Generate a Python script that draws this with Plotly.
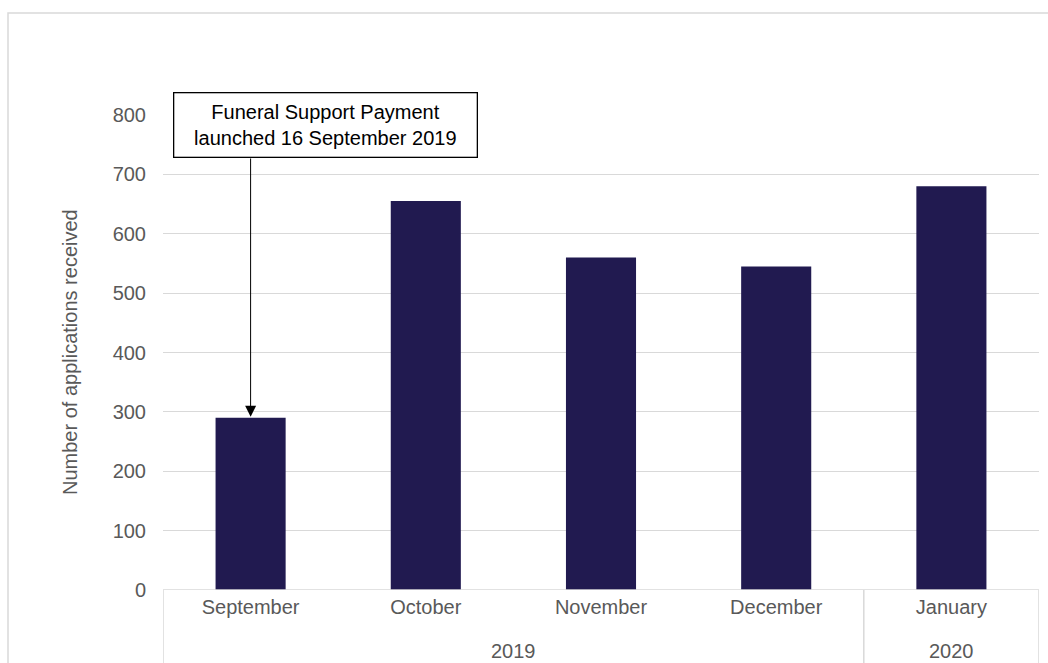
import plotly.graph_objects as go

months = ["September", "October", "November", "December", "January"]
years = ["2019", "2019", "2019", "2019", "2020"]
applications = [290, 655, 560, 545, 680]
year_groups = ["2019", "2020"]
y_ticks = [0, 100, 200, 300, 400, 500, 600, 700, 800]

BAR = "#211A50"
GRID = "#D9D9D9"
TXT = "#595959"
FONT = "Liberation Sans, Arial, sans-serif"

W, H = 1048, 663
L, R, T, B = 163, 9, 115, 73
pw, ph = W - L - R, H - T - B

def px2paper_x(px):
    return (px - L) / pw

def px2paper_y(py):
    return (H - B - py) / ph

xpos = list(range(len(months)))

fig = go.Figure()
fig.add_trace(go.Bar(x=xpos, y=applications, width=0.4,
                     marker=dict(color=BAR, line=dict(width=0)),
                     hoverinfo="skip"))

fig.update_layout(
    width=W, height=H,
    margin=dict(l=L, r=R, t=T, b=B, pad=0),
    paper_bgcolor="white", plot_bgcolor="white",
    showlegend=False,
    font=dict(family=FONT, size=20, color=TXT),
    xaxis=dict(range=[-0.5, len(months) - 0.5], tickvals=xpos, ticktext=months,
               showgrid=False, zeroline=False, showline=False, ticks="",
               ticklabelstandoff=3, tickfont=dict(size=20, color=TXT)),
    yaxis=dict(range=[0, 800], tickvals=y_ticks, showgrid=True, gridcolor=GRID,
               gridwidth=1, zeroline=False, showline=False, ticks="",
               ticklabelstandoff=16, tickfont=dict(size=20, color=TXT)),
)

shapes = []
# outer chart border
shapes.append(dict(type="rect", xref="paper", yref="paper",
                   x0=px2paper_x(8), x1=px2paper_x(1060),
                   y0=px2paper_y(680), y1=px2paper_y(13),
                   line=dict(color=GRID, width=1.5), fillcolor="rgba(0,0,0,0)",
                   layer="below"))
# x axis line
shapes.append(dict(type="line", xref="x", yref="y", x0=-0.5, x1=len(months) - 0.5,
                   y0=0, y1=0, line=dict(color=GRID, width=1.5)))
# group dividers
bottom = px2paper_y(H + 5)
year_bounds = [-0.5]
for i in range(1, len(years)):
    if years[i] != years[i - 1]:
        year_bounds.append(i - 0.5)
year_bounds.append(len(years) - 0.5)
for xb in year_bounds:
    shapes.append(dict(type="line", xref="x", yref="paper", x0=xb, x1=xb,
                       y0=0, y1=bottom, line=dict(color=GRID, width=1.5)))
fig.update_layout(shapes=shapes)

annotations = []
# year labels
for yr in year_groups:
    idx = [i for i, y in enumerate(years) if y == yr]
    annotations.append(dict(xref="x", yref="paper", x=sum(idx) / len(idx),
                            y=px2paper_y(651), text=yr, showarrow=False,
                            yanchor="middle", font=dict(size=20, color=TXT)))
# y-axis title
annotations.append(dict(xref="paper", yref="paper", x=px2paper_x(70),
                        y=px2paper_y(352), text="Number of applications received",
                        textangle=-90, showarrow=False, xanchor="center",
                        yanchor="middle", font=dict(size=20, color=TXT)))
# callout box
annotations.append(dict(xref="paper", yref="paper", x=px2paper_x(325.5),
                        y=px2paper_y(125), text="Funeral Support Payment<br>launched 16 September 2019",
                        showarrow=False, xanchor="center", yanchor="middle",
                        width=300, height=61, bordercolor="#000000", borderwidth=1.3,
                        bgcolor="white", font=dict(size=20, color="#000000")))
# arrow
annotations.append(dict(xref="x", yref="y", x=0, y=applications[0], text="",
                        showarrow=True, arrowhead=2, arrowsize=2.2, arrowwidth=1,
                        arrowcolor="#000000", ax=0, ay=-(590 - applications[0] * ph / 800 - 157),
                        standoff=1))
fig.update_layout(annotations=annotations)

fig.write_html("out.html", post_script="document.body.style.margin='0';",
               config={"displayModeBar": False, "staticPlot": True})
